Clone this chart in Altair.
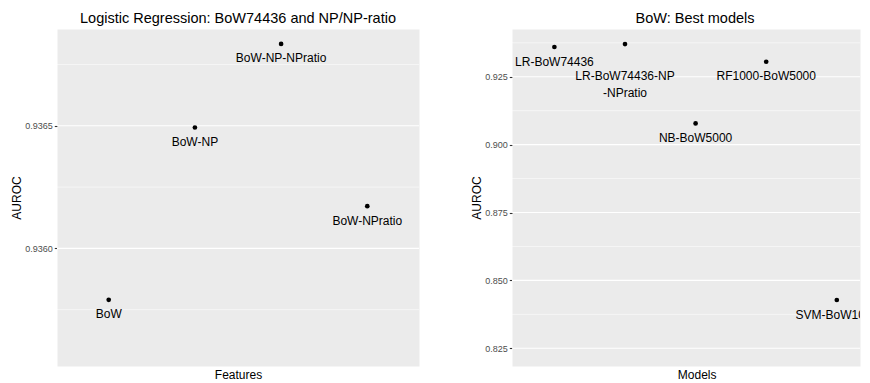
import altair as alt
import pandas as pd

# Left panel: Logistic Regression feature sets
lr_features = ["BoW", "BoW-NP", "BoW-NP-NPratio", "BoW-NPratio"]
lr_auroc = [0.93579, 0.936493, 0.936834, 0.936172]
lr_ticks = [0.9360, 0.9365]
lr_minor = [0.93575, 0.93625, 0.93675]
lr_domain = [0.93552, 0.936895]

# Right panel: best models
best_models = ["LR-BoW74436", "LR-BoW74436-NP-NPratio", "NB-BoW5000",
               "RF1000-BoW5000", "SVM-BoW1000"]
best_labels = ["LR-BoW74436", "LR-BoW74436-NP\n-NPratio", "NB-BoW5000",
               "RF1000-BoW5000", "SVM-BoW1000"]
best_auroc = [0.93595, 0.93705, 0.90782, 0.93053, 0.84277]
best_ticks = [0.825, 0.850, 0.875, 0.900, 0.925]
best_minor = [0.8375, 0.8625, 0.8875, 0.9125, 0.9375]
best_domain = [0.81847, 0.94259]

FONT = "Liberation Sans"


def panel(names, labels, values, ticks, minor, domain, fmt, xtitle, title,
          w, h, xscale, title_dx=0, xtitle_x=None):
    df = pd.DataFrame({"name": names, "label": labels, "auroc": values})
    mdf = pd.DataFrame({"auroc": minor})
    jdf = pd.DataFrame({"auroc": ticks})
    xaxis_kw = dict(title=xtitle, labels=False, ticks=False, domain=False,
                    grid=False, titlePadding=3.5, titleFontSize=12,
                    titleFont=FONT, titleFontWeight="normal", titleColor="black")
    if xtitle_x is not None:
        xaxis_kw["titleX"] = xtitle_x
    x = alt.X("name:N", sort=names, scale=xscale, axis=alt.Axis(**xaxis_kw))
    y = alt.Y("auroc:Q",
              scale=alt.Scale(domain=domain, nice=False, zero=False),
              axis=alt.Axis(values=ticks, format=fmt, title="AUROC",
                            grid=False,
                            domain=False, tickColor="#333333", tickSize=2.7,
                            tickWidth=1.1,
                            labelFontSize=9, labelColor="#4D4D4D",
                            labelFont=FONT, labelPadding=2,
                            titleFontSize=12, titleFont=FONT,
                            titleFontWeight="normal", titleColor="black",
                            titlePadding=1.3))
    minor_rules = alt.Chart(mdf).mark_rule(color="white", strokeWidth=0.55).encode(y=y)
    major_rules = alt.Chart(jdf).mark_rule(color="white", strokeWidth=1.1).encode(y=y)
    pts = alt.Chart(df).mark_circle(size=22, color="black", opacity=1).encode(x=x, y=y)
    txt1 = alt.Chart(df).transform_filter(
        "indexof(datum.label, '\\n') < 0"
    ).mark_text(dy=14.5, fontSize=12, font=FONT, color="black",
                baseline="middle", clip=True).encode(x=x, y=y, text="label:N")
    txt2 = alt.Chart(df).transform_filter(
        "indexof(datum.label, '\\n') >= 0"
    ).mark_text(dy=31.7, fontSize=12, font=FONT, color="black",
                baseline="middle", lineBreak="\n", lineHeight=17.6,
                clip=True).encode(x=x, y=y, text="label:N")
    return alt.layer(minor_rules, major_rules, pts, txt1, txt2).properties(
        width=w, height=h,
        title=alt.TitleParams(title, fontSize=14.5, font=FONT,
                              fontWeight="normal", color="black",
                              anchor="middle", baseline="alphabetic",
                              offset=-8.3, dx=title_dx))


left = panel(lr_features, lr_features, lr_auroc, lr_ticks, lr_minor, lr_domain,
             ".4f", "Features", "Logistic Regression: BoW74436 and NP/NP-ratio",
             362, 337, alt.Scale(type="point", padding=0.6))
right = panel(best_models, best_labels, best_auroc, best_ticks, best_minor,
              best_domain, ".3f", "Models", "BoW: Best models", 348, 337,
              alt.Scale(type="point", range=[42.4, 324.8], padding=0),
              title_dx=9, xtitle_x=184.7)

chart = alt.hconcat(left, right, spacing=50).properties(
    padding={"left": 2, "top": 2, "right": 0, "bottom": 0}
).configure(background="white").configure_view(
    fill="#EBEBEB", strokeOpacity=0)

chart.save("out.html", embed_options={"renderer": "svg", "actions": False})
